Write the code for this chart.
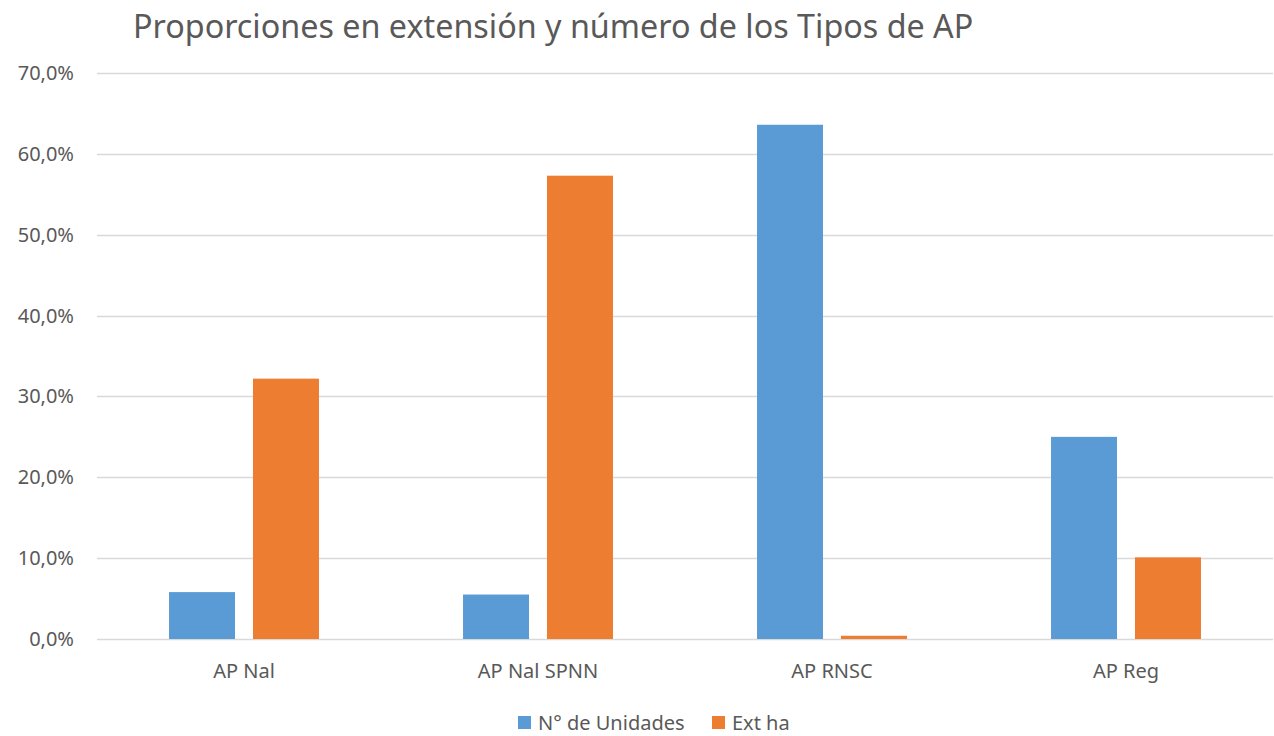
<!DOCTYPE html>
<html>
<head>
<meta charset="utf-8">
<script src="https://cdn.jsdelivr.net/npm/d3@7"></script>
<style>
  body { margin: 0; background: #fff; }
  text { font-family: "Noto Sans", "Open Sans", sans-serif; fill: #595959; }
</style>
</head>
<body>
<div id="root"></div>
<script>
const categories = ["AP Nal", "AP Nal SPNN", "AP RNSC", "AP Reg"];
const seriesNames = ["N° de Unidades", "Ext ha"];
const unidades = [5.8, 5.5, 63.6, 25.0];
const extHa = [32.2, 57.3, 0.4, 10.1];
const yTicks = [0, 10, 20, 30, 40, 50, 60, 70];
const colors = ["#5b9bd5", "#ed7d31"];

const width = 1274;
const height = 736;
const margin = { top: 73, right: 1, bottom: 97, left: 97 };

const svg = d3
  .select("#root")
  .append("svg")
  .attr("width", width)
  .attr("height", height);

const x = d3
  .scaleBand()
  .domain(categories)
  .range([margin.left, width - margin.right])
  .paddingInner(0)
  .paddingOuter(0);

const y = d3
  .scaleLinear()
  .domain([0, 70])
  .range([height - margin.bottom, margin.top]);

// inner scale for the two series inside each category
const groupW = x.bandwidth() * 0.51;
const x1 = d3
  .scaleBand()
  .domain(seriesNames)
  .range([0, groupW])
  .paddingInner(0.214);

const fmt = (d) => d.toFixed(1).replace(".", ",") + "%";

// gridlines
svg
  .append("g")
  .selectAll("line")
  .data(yTicks)
  .join("line")
  .attr("x1", margin.left)
  .attr("x2", width - margin.right)
  .attr("y1", (d) => Math.round(y(d)) + 0.5)
  .attr("y2", (d) => Math.round(y(d)) + 0.5)
  .attr("stroke", "#d9d9d9")
  .attr("stroke-width", 1.3);

// y labels
svg
  .append("g")
  .selectAll("text")
  .data(yTicks)
  .join("text")
  .attr("x", 74)
  .attr("y", (d) => y(d) + 7)
  .attr("text-anchor", "end")
  .attr("font-size", 20)
  .text(fmt);

const rows = categories.map((c, i) => ({
  cat: c,
  values: [
    { key: seriesNames[0], v: unidades[i] },
    { key: seriesNames[1], v: extHa[i] },
  ],
}));

const groups = svg
  .append("g")
  .selectAll("g")
  .data(rows)
  .join("g")
  .attr(
    "transform",
    (d) => `translate(${x(d.cat) + (x.bandwidth() - groupW) / 2},0)`
  );

groups
  .selectAll("rect")
  .data((d) => d.values)
  .join("rect")
  .attr("x", (d) => x1(d.key))
  .attr("width", x1.bandwidth())
  .attr("y", (d) => y(d.v))
  .attr("height", (d) => y(0) - y(d.v))
  .attr("fill", (d, i) => colors[i]);

// category labels
svg
  .append("g")
  .selectAll("text")
  .data(categories)
  .join("text")
  .attr("x", (d) => x(d) + x.bandwidth() / 2)
  .attr("y", 678)
  .attr("text-anchor", "middle")
  .attr("font-size", 20)
  .text((d) => d);

// title
svg
  .append("text")
  .attr("x", 133)
  .attr("y", 38)
  .attr("font-size", 32.3)
  .text("Proporciones en extensión y número de los Tipos de AP");

// legend
const legend = svg.append("g");
const legendItems = [
  { name: seriesNames[0], x: 518 },
  { name: seriesNames[1], x: 712 },
];
legendItems.forEach((d, i) => {
  legend
    .append("rect")
    .attr("x", d.x)
    .attr("y", 716)
    .attr("width", 13)
    .attr("height", 13)
    .attr("fill", colors[i]);
  legend
    .append("text")
    .attr("x", d.x + 20)
    .attr("y", 730)
    .attr("font-size", 20)
    .text(d.name);
});
</script>
</body>
</html>
